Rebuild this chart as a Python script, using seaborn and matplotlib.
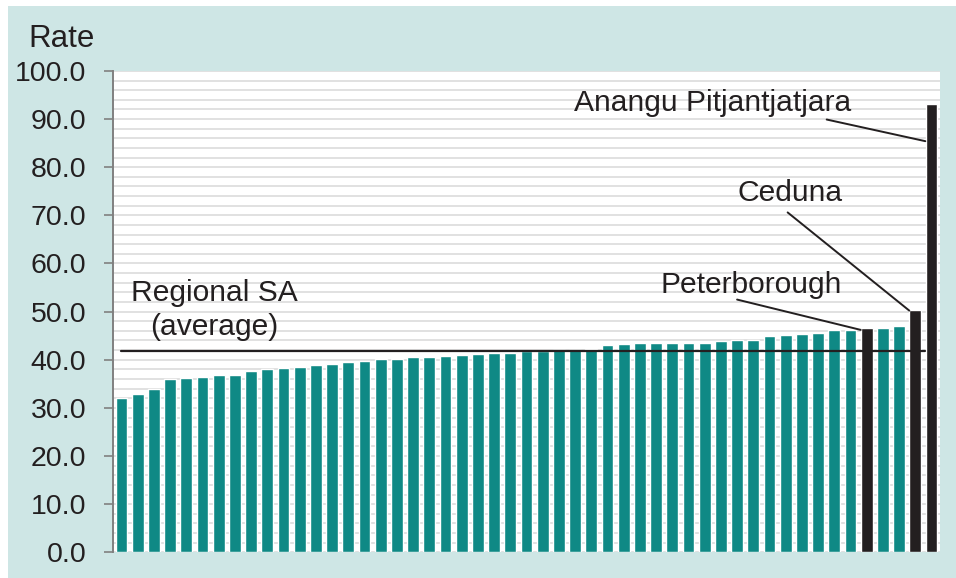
import matplotlib
matplotlib.use("Agg")
import matplotlib.pyplot as plt
from matplotlib.patches import Rectangle
import seaborn as sns
import pandas as pd
import numpy as np

# ---- data ----
rates = [32.0, 32.8, 34.0, 35.9, 36.2, 36.4, 36.9, 36.9, 37.6, 38.1,
         38.2, 38.4, 38.9, 39.2, 39.5, 39.8, 40.1, 40.2, 40.5, 40.5,
         40.7, 40.9, 41.2, 41.4, 41.4, 41.8, 41.9, 42.1, 42.1, 42.2,
         43.1, 43.2, 43.4, 43.4, 43.5, 43.5, 43.5, 43.8, 44.1, 44.2,
         44.9, 45.1, 45.3, 45.5, 46.1, 46.2, 46.6, 46.5, 47.1, 50.3,
         93.1]
areas = [f"Area {i + 1}" for i in range(len(rates))]
areas[46] = "Peterborough"
areas[49] = "Ceduna"
areas[50] = "Anangu Pitjantjatjara"
highlighted = ["Peterborough", "Ceduna", "Anangu Pitjantjatjara"]
regional_avg = 41.8
y_ticks = [0, 10, 20, 30, 40, 50, 60, 70, 80, 90, 100]

teal = "#0F8985"
dark = "#231F20"
bg = "#CEE6E5"

df = pd.DataFrame({"area": areas, "rate": rates})
palette = {a: (dark if a in highlighted else teal) for a in areas}

sns.set_theme(style="white")
plt.rcParams["font.family"] = ["Liberation Sans", "DejaVu Sans"]

W, H = 956, 578
fig = plt.figure(figsize=(W / 100, H / 100), dpi=100, facecolor="white")
fig.patches.append(Rectangle((8 / W, 0), 1 - 8 / W, 1 - 6 / H,
                             transform=fig.transFigure, facecolor=bg,
                             edgecolor="none", zorder=-10))
ax = fig.add_axes([113.4 / W, 1 - 552.3 / H, (939.6 - 113.4) / W,
                   (552.3 - 70.9) / H])
ax.set_facecolor("white")

sns.barplot(data=df, x="area", y="rate", hue="area", palette=palette,
            order=areas, hue_order=areas, legend=False, width=0.72,
            saturation=1, ax=ax, zorder=3)

ax.set_xlim(-0.5, len(rates) - 0.5)
ax.set_ylim(0, 100)
for g in np.arange(0, 101, 2):
    ax.axhline(g, color="#DCDCDC", lw=1.2, zorder=1)

ax.set_yticks(y_ticks)
ax.set_yticklabels([f"{t:.1f}" for t in y_ticks], fontsize=20.5, color=dark)
ax.tick_params(axis="y", direction="out", length=6.5, width=1.2,
               color="#808080", pad=13, left=True)
ax.set_xticks([])
ax.set_xlabel("")
ax.set_ylabel("")
for s in ["top", "right", "bottom"]:
    ax.spines[s].set_visible(False)
ax.spines["left"].set_color("#808080")
ax.spines["left"].set_linewidth(1.4)
ax.spines["left"].set_zorder(5)

# regional average line
ax.plot([-0.05, 49.6], [regional_avg, regional_avg], color=dark, lw=1.6,
        zorder=4)

# labels and leader lines
fs = 21.6
ax.text(5.71, 52.1, "Regional SA", ha="center", va="baseline", fontsize=fs,
        color=dark, zorder=6)
ax.text(5.71, 45.2, "(average)", ha="center", va="baseline", fontsize=fs,
        color=dark, zorder=6)

ax.text(45.07, 91.6, "Anangu Pitjantjatjara", ha="right", va="baseline",
        fontsize=fs, color=dark, zorder=6)
ax.plot([43.53, 49.62], [89.9, 85.4], color=dark, lw=1.4, zorder=6)

ax.text(44.54, 72.9, "Ceduna", ha="right", va="baseline", fontsize=fs,
        color=dark, zorder=6)
ax.plot([41.12, 48.63], [70.6, 50.2], color=dark, lw=1.4, zorder=6)

ax.text(44.47, 53.8, "Peterborough", ha="right", va="baseline", fontsize=fs,
        color=dark, zorder=6)
ax.plot([38.0, 45.63], [52.5, 46.2], color=dark, lw=1.4, zorder=6)

fig.text(28 / W, 1 - 46.7 / H, "Rate", ha="left", va="baseline",
         fontsize=22.5, color=dark)

fig.savefig("out.png", dpi=100, facecolor=fig.get_facecolor())
